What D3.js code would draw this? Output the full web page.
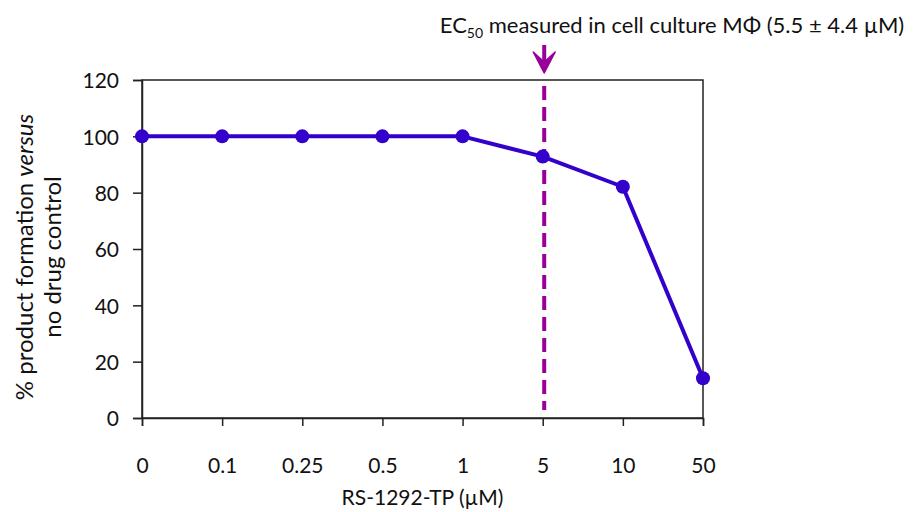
<!DOCTYPE html>
<html>
<head>
<meta charset="utf-8">
<script src="https://cdn.jsdelivr.net/npm/d3@7"></script>
<style>
  body { margin: 0; background: #fff; }
  text { font-family: Lato, "Open Sans", sans-serif; fill: #111; }
</style>
</head>
<body>
<svg id="chart"></svg>
<script>
// data
const doses = ["0", "0.1", "0.25", "0.5", "1", "5", "10", "50"]
const productPct = [100, 100, 100, 100, 100, 92.8, 82.1, 14.1]
const yTicks = [0, 20, 40, 60, 80, 100, 120]
const ec50Dose = "5"

const width = 915, height = 512
const margin = {top: 80, right: 212, bottom: 94, left: 142}

const svg = d3.select('#chart')
    .attr('width', width)
    .attr('height', height)

const x = d3.scalePoint()
    .domain(doses)
    .range([margin.left, width - margin.right])

const y = d3.scaleLinear()
    .domain([0, 120])
    .range([height - margin.bottom, margin.top])

// frame round the plot
svg.append('rect')
    .attr('x', margin.left)
    .attr('y', margin.top)
    .attr('width', width - margin.right - margin.left)
    .attr('height', height - margin.bottom - margin.top)
    .attr('fill', 'none')
    .attr('stroke', '#222')
    .attr('stroke-width', 1.5)

// y axis
const yAxis = svg.append('g')
    .attr('transform', `translate(${margin.left},0)`)
    .call(d3.axisLeft(y).tickValues(yTicks).tickSize(9).tickPadding(14))
yAxis.select('.domain').attr('stroke', '#222').attr('stroke-width', 1.5)
yAxis.selectAll('.tick line').attr('stroke', '#222').attr('stroke-width', 1.5)
yAxis.selectAll('.tick text').style('font-size', '21px').attr('dy', '0.38em')

// x axis
const xAxis = svg.append('g')
    .attr('transform', `translate(0,${height - margin.bottom})`)
    .call(d3.axisBottom(x).tickSize(8).tickPadding(32))
xAxis.select('.domain').attr('stroke', '#222').attr('stroke-width', 1.5)
xAxis.selectAll('.tick line').attr('stroke', '#222').attr('stroke-width', 1.5)
xAxis.selectAll('.tick text').style('font-size', '21px')

// axis titles
svg.append('text')
    .attr('x', (margin.left + width - margin.right) / 2)
    .attr('y', 505)
    .attr('text-anchor', 'middle')
    .style('font-size', '21px')
    .text('RS-1292-TP (µM)')

const yTitle = svg.append('g')
    .attr('transform', `translate(33,257) rotate(-90)`)
const line1 = yTitle.append('text')
    .attr('text-anchor', 'middle')
    .style('font-size', '24px')
line1.append('tspan').text('% product formation ')
line1.append('tspan').style('font-style', 'italic').text('versus')
yTitle.append('text')
    .attr('y', 28)
    .attr('text-anchor', 'middle')
    .style('font-size', '24px')
    .text('no drug control')

// EC50 marker
const ecX = x(ec50Dose) + 1.5
const purple = '#990099'
svg.append('line')
    .attr('x1', ecX).attr('x2', ecX)
    .attr('y1', margin.top + 6).attr('y2', height - margin.bottom - 8)
    .attr('stroke', purple)
    .attr('stroke-width', 4)
    .attr('stroke-dasharray', '14 7')

svg.append('line')
    .attr('x1', ecX).attr('x2', ecX)
    .attr('y1', 45).attr('y2', 66)
    .attr('stroke', purple)
    .attr('stroke-width', 4)
svg.append('path')
    .attr('d', `M${ecX - 11},52 L${ecX},73 L${ecX + 11},52 L${ecX},62 Z`)
    .attr('fill', purple)
    .attr('stroke', purple)
    .attr('stroke-width', 1.5)
    .attr('stroke-linejoin', 'round')

const ecText = svg.append('text')
    .attr('x', 672)
    .attr('y', 33)
    .attr('text-anchor', 'middle')
    .style('font-size', '22px')
ecText.append('tspan').text('EC')
ecText.append('tspan').attr('dy', 5).style('font-size', '14px').text('50')
ecText.append('tspan').attr('dy', -5).text(' measured in cell culture MΦ (5.5 ± 4.4 µM)')

// data line and points
const pts = doses.map((d, i) => ({dose: d, value: productPct[i]}))

svg.append('path')
    .datum(pts)
    .attr('fill', 'none')
    .attr('stroke', '#3300cc')
    .attr('stroke-width', 4)
    .attr('stroke-linejoin', 'round')
    .attr('d', d3.line().x(d => x(d.dose)).y(d => y(d.value)))

svg.selectAll('circle.pt')
    .data(pts)
    .join('circle')
    .attr('class', 'pt')
    .attr('cx', d => x(d.dose))
    .attr('cy', d => y(d.value))
    .attr('r', 7)
    .attr('fill', '#3300cc')
</script>
</body>
</html>
